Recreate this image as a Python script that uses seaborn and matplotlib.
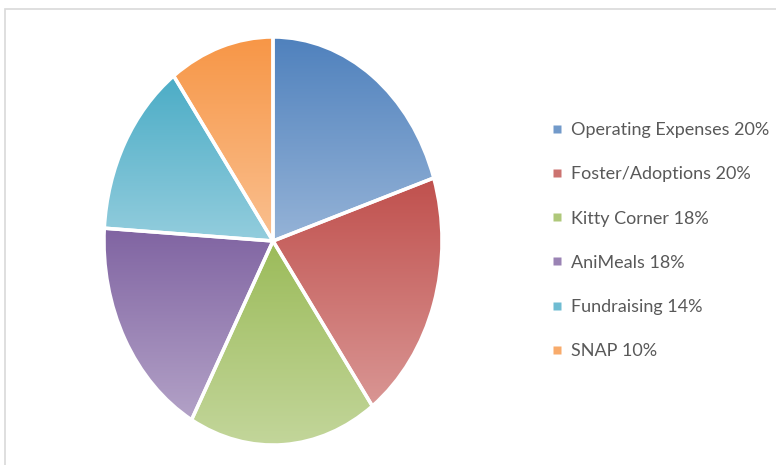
import matplotlib
matplotlib.use("Agg")
import matplotlib.pyplot as plt
import matplotlib.colors as mcolors
from matplotlib.patches import Rectangle
import seaborn as sns
import numpy as np

categories = ["Operating Expenses", "Foster/Adoptions", "Kitty Corner",
              "AniMeals", "Fundraising", "SNAP"]
shares = [20, 20, 18, 18, 14, 10]
top_colors = ["#4F81BD", "#C0504D", "#9BBB59", "#8064A2", "#4BACC6", "#F79646"]
bottom_colors = ["#95B3D7", "#D99694", "#C3D69B", "#B3A2C7", "#93CDDD", "#FAC090"]

sns.set_theme(style="white")
plt.rcParams["font.family"] = ["Lato", "DejaVu Sans"]

W, H = 776, 465
fig = plt.figure(figsize=(W / 100, H / 100), dpi=100)

# pie area in pixels: x 104..442, y 37..445
ax = fig.add_axes([104 / W, (H - 445) / H, 338 / W, 408 / H])
wedges, _ = ax.pie(shares, startangle=90, counterclock=False,
                   wedgeprops=dict(edgecolor="white", linewidth=2.5))
ax.set_aspect("auto")
ax.axis("off")

# vertical gradient inside each wedge, dark on top, light at the bottom
for w, c1, c2 in zip(wedges, top_colors, bottom_colors):
    verts = w.get_path().transformed(w.get_patch_transform()).vertices
    x0, x1 = verts[:, 0].min(), verts[:, 0].max()
    y0, y1 = verts[:, 1].min(), verts[:, 1].max()
    cmap = mcolors.LinearSegmentedColormap.from_list("g", [c2, c1])
    grad = np.linspace(0, 1, 256).reshape(-1, 1)
    im = ax.imshow(grad, cmap=cmap, origin="lower", aspect="auto",
                   extent=(x0, x1, y0, y1), zorder=1)
    im.set_clip_path(w)
    w.set_facecolor("none")
    w.set_zorder(2)
    w.set_clip_on(False)
ax.set_aspect("auto")
ax.set_xlim(-1, 1)
ax.set_ylim(-1, 1)

# legend
mid_colors = [mcolors.to_hex((np.array(mcolors.to_rgb(a)) + np.array(mcolors.to_rgb(b))) / 2)
              for a, b in zip(top_colors, bottom_colors)]
handles = [plt.Line2D([], [], marker="s", linestyle="", markersize=6,
                      markerfacecolor=c, markeredgecolor="none") for c in mid_colors]
labels = [f"{n} {v}%" for n, v in zip(categories, shares)]
leg = fig.legend(handles, labels, loc="upper left",
                 bbox_to_anchor=(544 / W, 1 - 115 / H),
                 frameon=False, fontsize=13, labelspacing=1.56,
                 handlelength=0.6, handletextpad=0.5, borderaxespad=0)
for t in leg.get_texts():
    t.set_color("#595959")

# chart border
fig.patches.append(Rectangle((5 / W, -0.1), 1.2, 1 - 9 / H + 0.1,
                             transform=fig.transFigure, fill=False,
                             edgecolor="#d9d9d9", linewidth=1.2))

fig.savefig("out.png", dpi=100)
